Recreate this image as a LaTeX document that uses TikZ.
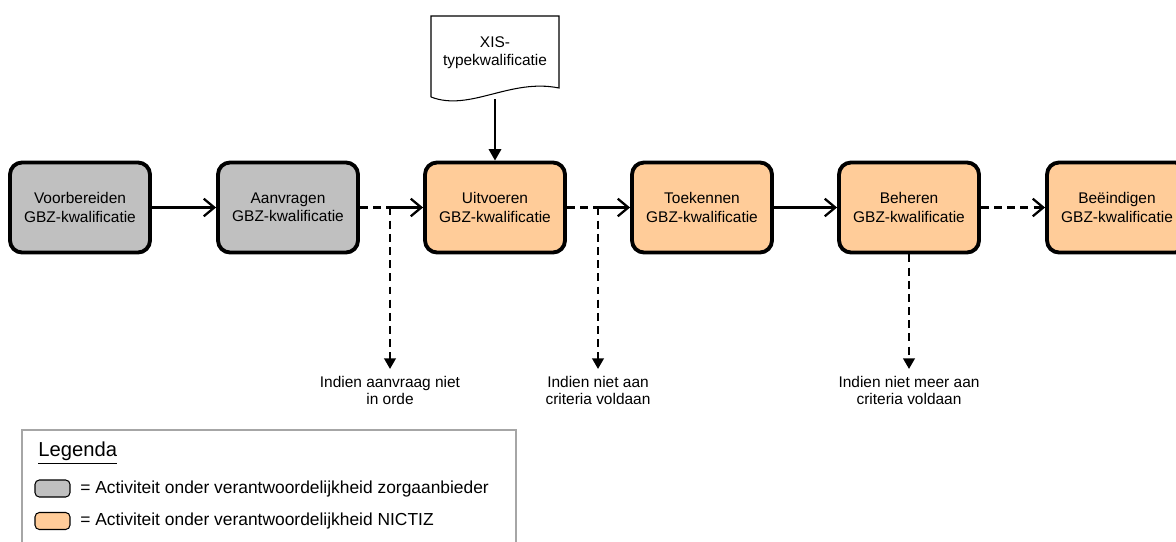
\documentclass[tikz,border=0pt]{standalone}
\usepackage{fontspec}
\setmainfont{Liberation Sans}
\usetikzlibrary{arrows.meta}

\definecolor{zorggray}{RGB}{192,192,192}
\definecolor{nictizorange}{RGB}{255,204,153}

\tikzset{
  activity/.style={draw, line width=2.2pt, rounded corners=0.24cm,
    minimum width=2.8cm, minimum height=1.8cm, align=center,
    font=\fontsize{8.8}{10.4}\selectfont},
  flow/.style={line width=1.3pt, -{Straight Barb[length=6pt,width=10pt]}},
  dashflow/.style={line width=1.3pt, dash pattern=on 4.5pt off 3pt},
  exitflow/.style={dashflow, -{Triangle[length=6pt,width=6.5pt]}},
  exitnote/.style={align=center, inner sep=0pt, outer sep=0pt, anchor=north,
    font=\fontsize{8.8}{9.6}\selectfont},
  swatch/.style={draw, line width=0.6pt, rounded corners=2.5pt,
    minimum width=0.7cm, minimum height=0.34cm, inner sep=0pt},
  legendtext/.style={anchor=west, inner sep=0pt, font=\fontsize{9.9}{11}\selectfont}
}

\begin{document}
\begin{tikzpicture}[x=0.02cm, y=-0.02cm]

    % Fix the page size (pixels of the reference)
    \useasboundingbox (0,0) rectangle (1176,541);

    % Height of the row of activities
    \def\rowy{207.5}

    % The six activities
    \node[activity, fill=zorggray] (voorbereiden) at (80,\rowy) {Voorbereiden\\GBZ-kwalificatie};
    \node[activity, fill=zorggray] (aanvragen) at (288,\rowy) {Aanvragen\\GBZ-kwalificatie};
    \node[activity, fill=nictizorange] (uitvoeren) at (495,\rowy) {Uitvoeren\\GBZ-kwalificatie};
    \node[activity, fill=nictizorange] (toekennen) at (702,\rowy) {Toekennen\\GBZ-kwalificatie};
    \node[activity, fill=nictizorange] (beheren) at (909,\rowy) {Beheren\\GBZ-kwalificatie};
    \node[activity, fill=nictizorange] (beeindigen) at (1117,\rowy) {Beëindigen\\GBZ-kwalificatie};

    % Document with the wavy bottom
    \draw[line width=0.6pt, fill=white] (431,97) -- (431,16) -- (559,16) -- (559,88)
        .. controls (510,78) and (470,112) .. (431,97);
    \node[align=center, font=\fontsize{8.8}{10.4}\selectfont] (xis) at (495,53) {XIS-\\typekwalificatie};
    \coordinate (xisbot) at (495,99);

    % Branch points of the exits
    \coordinate (b1) at (390,\rowy);
    \coordinate (b2) at (598,\rowy);

    % Exit notes
    \node[exitnote] (n1) at (390,376) {Indien aanvraag niet\\in orde};
    \node[exitnote] (n2) at (598,376) {Indien niet aan\\criteria voldaan};
    \node[exitnote] (n3) at (909,376) {Indien niet meer aan\\criteria voldaan};

    % Main flow
    \draw[flow] (voorbereiden) -- (aanvragen);
    \draw[dashflow] (aanvragen.east) -- (b1);
    \draw[flow] (b1) -- (uitvoeren.west);
    \draw[dashflow] (uitvoeren.east) -- (b2);
    \draw[flow] (b2) -- (toekennen.west);
    \draw[flow] (toekennen) -- (beheren);
    \draw[dashflow, -{Straight Barb[length=6pt,width=10pt]}] (beheren) -- (beeindigen);

    % Input document
    \draw[line width=1.3pt, -{Triangle[length=6.5pt,width=7pt]}] (xisbot) -- (uitvoeren.north);

    % Exits downwards
    \draw[exitflow, shorten >=4pt] (b1) -- (n1.north);
    \draw[exitflow, shorten >=4pt] (b2) -- (n2.north);
    \draw[exitflow, shorten >=4pt] (beheren.south) -- (n3.north);

    % Legend
    \draw[gray!70, line width=0.6pt] (22,430) rectangle (516,560);
    \node[anchor=west, inner sep=0pt, font=\fontsize{11.5}{13}\selectfont] (legenda) at (38,453) {\underline{Legenda}};
    \node[swatch, fill=zorggray] (sw1) at (52.5,488.5) {};
    \node[legendtext] (lt1) at (80,488.5) {= Activiteit onder verantwoordelijkheid zorgaanbieder};
    \node[swatch, fill=nictizorange] (sw2) at (52.5,521) {};
    \node[legendtext] (lt2) at (80,521) {= Activiteit onder verantwoordelijkheid NICTIZ};

\end{tikzpicture}
\end{document}
